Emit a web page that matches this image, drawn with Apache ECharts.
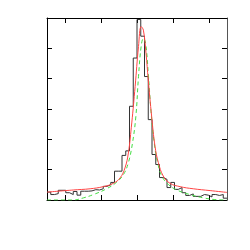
<!DOCTYPE html>
<html>
<head>
<meta charset="utf-8">
<script src="https://cdn.jsdelivr.net/npm/echarts@6/dist/echarts.min.js"></script>
<style>html,body{margin:0;padding:0;background:#fff}#c{width:250px;height:250px}</style>
</head>
<body>
<div id="c"></div>
<script>
// Histogram bin contents (48 bins, x in bin units 0..48)
var histValues = [0.26,0.18,0.21,0.32,0.32,0.24,0.18,0.28,0.16,0.29,
                  0.29,0.30,0.34,0.33,0.37,0.45,0.50,0.58,0.95,0.95,
                  1.47,1.62,3.09,4.68,5.95,5.40,4.07,2.65,1.50,1.17,
                  0.74,0.68,0.41,0.58,0.35,0.41,0.24,0.15,0.20,0.12,
                  0.12,0.18,0.16,0.10,0.18,0.15,0.18,0.06];
// Red fit curve: [x, y]
var redX = [0,7.0,11.5,15.0,17.7,19.5,20.8,21.7,22.6,23.5,24.4,25.1,25.7,26.4,27.0,27.9,28.8,29.7,31.0,32.8,35.5,39.0,43.5,48];
var redY = [0.26,0.33,0.37,0.44,0.55,0.73,1.06,1.55,2.54,3.74,5.06,5.72,5.6,4.84,3.96,2.76,1.77,1.23,0.79,0.55,0.44,0.37,0.31,0.25];
// Green dashed curve
var greenX = [0,7.0,9.7,12.4,15.9,18.6,20.4,21.7,22.8,23.7,24.4,25.1,25.7,26.3,27.0,27.7,28.6,29.5,30.6,32.4,34.6,38.1,41.7,45.2,48];
var greenY = [0,0,0.07,0.18,0.37,0.59,0.84,1.23,1.88,2.76,4.07,5.06,5.33,5.17,4.18,2.98,1.88,1.23,0.79,0.51,0.33,0.18,0.07,0.01,0];
var xTicks = [4.8,14.4,24,33.6,43.2];
var yMax = 6, xMax = 48;

var histData = histValues.map(function(v,i){return [i,v];});
histData.push([histValues.length, histValues[histValues.length-1]]);
var redData = redX.map(function(x,i){return [x, redY[i]];});
var greenData = greenX.map(function(x,i){return [x, greenY[i]];});

function tickStyle(){ return {show:true, inside:true, length:5, lineStyle:{color:'#000', width:1}}; }
function axisLine(c){ return {show:true, onZero:false, lineStyle:{color:c, width:1}}; }
var chart = echarts.init(document.getElementById('c'), null, {renderer:'canvas'});
var xt1 = tickStyle(); xt1.customValues = xTicks;
var xt2 = tickStyle(); xt2.customValues = xTicks;
chart.setOption({
  animation:false,
  grid:{left:47, top:18, width:180, height:182},
  xAxis:[
    {type:'value', min:0, max:xMax, position:'bottom',
     axisLine:axisLine('#000'), axisTick:xt1,
     axisLabel:{show:false}, splitLine:{show:false}},
    {type:'value', min:0, max:xMax, position:'top',
     axisLine:axisLine('#000'), axisTick:xt2,
     axisLabel:{show:false}, splitLine:{show:false}}
  ],
  yAxis:[
    {type:'value', min:0, max:yMax, interval:1, position:'left',
     axisLine:axisLine('#000'), axisTick:tickStyle(),
     axisLabel:{show:false}, splitLine:{show:false}},
    {type:'value', min:0, max:yMax, interval:1, position:'right',
     axisLine:axisLine('#555'), axisTick:tickStyle(),
     axisLabel:{show:false}, splitLine:{show:false}}
  ],
  series:[
    {type:'line', step:'end', data:histData, symbol:'none',
     lineStyle:{color:'#333', width:1}, clip:true},
    {type:'line', data:greenData, symbol:'none', smooth:0.4,
     lineStyle:{color:'#44dd44', width:1, type:[4,3]}, clip:true},
    {type:'line', data:redData, symbol:'none', smooth:0.4,
     lineStyle:{color:'#ff4444', width:1}, clip:true}
  ]
});
</script>
</body>
</html>
